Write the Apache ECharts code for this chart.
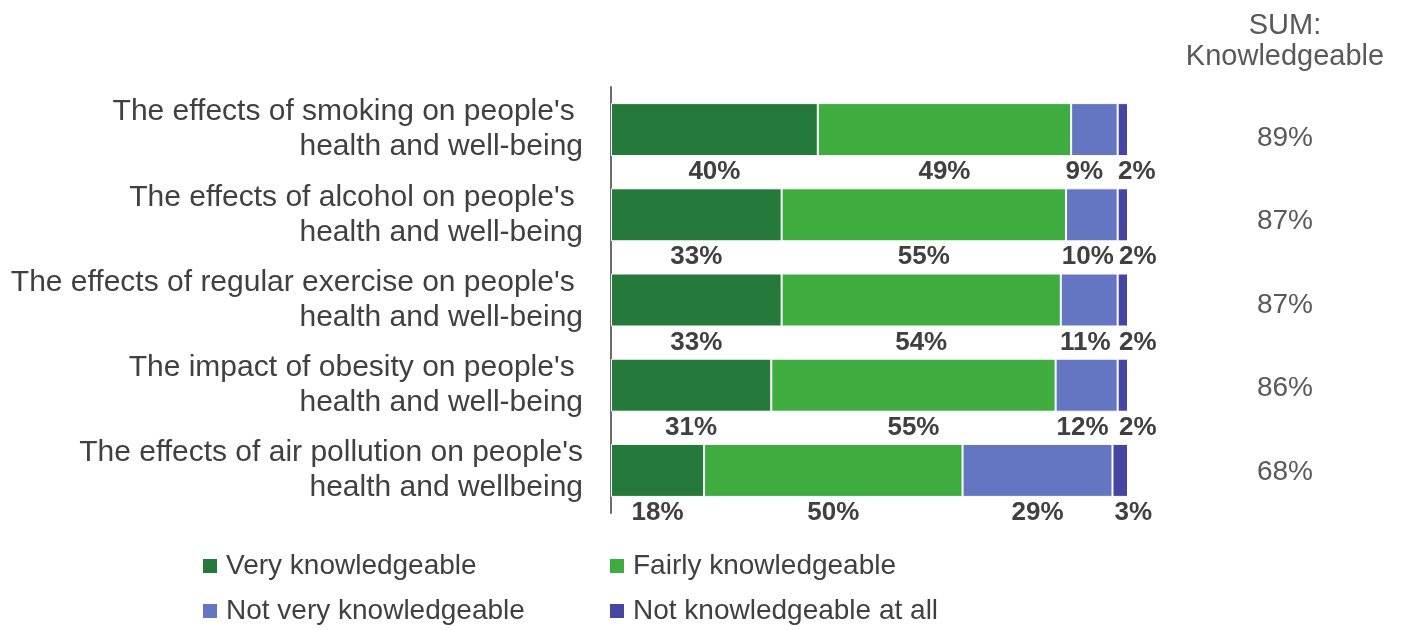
<!DOCTYPE html>
<html>
<head>
<meta charset="utf-8">
<script src="https://cdn.jsdelivr.net/npm/echarts@6/dist/echarts.min.js"></script>
<style>
  html, body { margin: 0; padding: 0; background: #ffffff; }
  #chart { width: 1402px; height: 630px; }
</style>
</head>
<body>
<div id="chart"></div>
<script>
// Survey topics (top to bottom)
const categories = [
  "The effects of smoking on people's \nhealth and well-being",
  "The effects of alcohol on people's \nhealth and well-being",
  "The effects of regular exercise on people's \nhealth and well-being",
  "The impact of obesity on people's \nhealth and well-being",
  "The effects of air pollution on people's\nhealth and wellbeing"
];

// Share of respondents (%) per answer
const veryKnowledgeable   = [40, 33, 33, 31, 18];
const fairlyKnowledgeable = [49, 55, 54, 55, 50];
const notVeryKnowledgeable = [9, 10, 11, 12, 29];
const notKnowledgeableAtAll = [2, 2, 2, 2, 3];

// Combined "knowledgeable" share shown in the right column
const sumKnowledgeable = [89, 87, 87, 86, 68];

const seriesNames = [
  'Very knowledgeable',
  'Fairly knowledgeable',
  'Not very knowledgeable',
  'Not knowledgeable at all'
];

// Horizontal nudges for labels of the narrow segments so they don't collide
const notVeryLabelShift = [-10, -4, -4, -4, 0];
const notAtAllLabelShift = [14, 15, 15, 15, 13];

const colors = ['#25793B', '#3EAC3E', '#6476C2', '#4545A2'];
const textDark = '#404040';
const textGrey = '#595959';
const fontFamily = '"Liberation Sans", Arial, sans-serif';

const chart = echarts.init(document.getElementById('chart'), null, { renderer: 'canvas' });

const labelBase = {
  show: true,
  position: 'bottom',
  distance: 3,
  fontSize: 26,
  fontWeight: 'bold',
  fontFamily: fontFamily,
  color: textDark,
  formatter: '{c}%'
};

function barSeries(name, values, color, shifts) {
  return {
    name: name,
    type: 'bar',
    stack: 'total',
    barWidth: 53,
    xAxisIndex: 0,
    yAxisIndex: 0,
    itemStyle: { color: color, borderColor: '#ffffff', borderWidth: 1 },
    label: labelBase,
    emphasis: { disabled: true },
    data: values.map((v, i) => shifts
      ? { value: v, label: { offset: [shifts[i], 0] } }
      : v)
  };
}

function legendAt(name, left, top) {
  return {
    data: [name],
    left: left,
    top: top,
    padding: 0,
    orient: 'horizontal',
    icon: 'rect',
    itemWidth: 16,
    itemHeight: 16,
    selectedMode: false,
    textStyle: {
      fontSize: 28,
      fontFamily: fontFamily,
      color: textDark,
      lineHeight: 30,
      padding: [0, 0, 0, 3]
    }
  };
}

const option = {
  backgroundColor: '#ffffff',
  animation: false,
  title: {
    text: 'SUM:\nKnowledgeable',
    left: 1285,
    top: 10,
    padding: 0,
    textAlign: 'center',
    textStyle: {
      fontSize: 29,
      fontWeight: 'normal',
      fontFamily: fontFamily,
      color: textGrey,
      lineHeight: 31
    }
  },
  legend: [
    legendAt(seriesNames[0], 201, 551),
    legendAt(seriesNames[1], 608, 551),
    legendAt(seriesNames[2], 201, 596),
    legendAt(seriesNames[3], 608, 596)
  ],
  grid: [
    { left: 611, right: 274, top: 87, height: 426, containLabel: false },
    { left: 1285, width: 1, top: 96, height: 418, containLabel: false }
  ],
  xAxis: [
    { type: 'value', gridIndex: 0, min: 0, max: 100, show: false },
    { type: 'value', gridIndex: 1, min: 0, max: 1, show: false }
  ],
  yAxis: [
    {
      type: 'category',
      gridIndex: 0,
      inverse: true,
      data: categories,
      axisLine: { show: true, lineStyle: { color: '#6d6d6d', width: 2 } },
      axisTick: { show: false },
      splitLine: { show: false },
      axisLabel: {
        margin: 28,
        fontSize: 30,
        lineHeight: 35,
        fontFamily: fontFamily,
        color: textDark,
        align: 'right'
      }
    },
    {
      type: 'category',
      gridIndex: 1,
      inverse: true,
      data: sumKnowledgeable.map(String),
      axisLine: { show: false },
      axisTick: { show: false },
      splitLine: { show: false },
      axisLabel: {
        margin: 0,
        align: 'center',
        fontSize: 28,
        fontFamily: fontFamily,
        color: textGrey,
        formatter: (v) => v + '%'
      }
    }
  ],
  series: [
    barSeries(seriesNames[0], veryKnowledgeable, colors[0]),
    barSeries(seriesNames[1], fairlyKnowledgeable, colors[1]),
    barSeries(seriesNames[2], notVeryKnowledgeable, colors[2], notVeryLabelShift),
    barSeries(seriesNames[3], notKnowledgeableAtAll, colors[3], notAtAllLabelShift)
  ]
};

chart.setOption(option);
</script>
</body>
</html>
